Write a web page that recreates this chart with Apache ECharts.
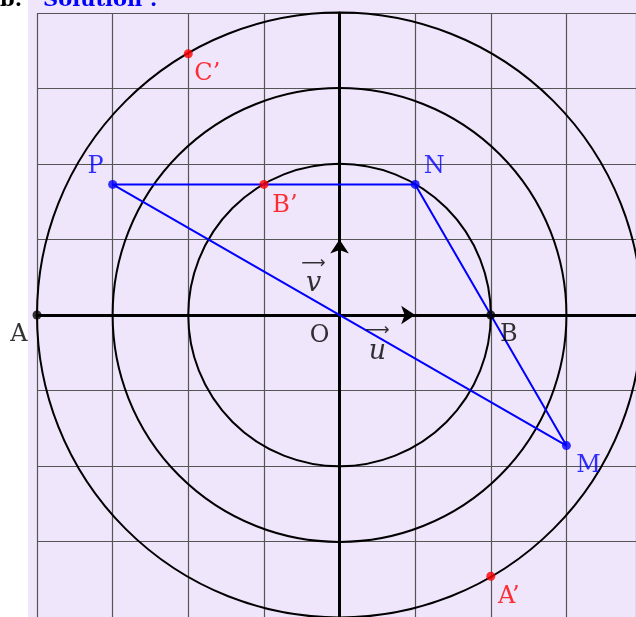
<!DOCTYPE html>
<html>
<head>
<meta charset="utf-8">
<script src="https://cdn.jsdelivr.net/npm/echarts@6/dist/echarts.min.js"></script>
<style>
  html, body { margin: 0; padding: 0; background: #fff; }
  #chart { width: 636px; height: 617px; }
</style>
</head>
<body>
<div id="chart"></div>
<script>
// --- data (unit = one grid square) ---
const radii = [2, 3, 4]

const blueNames = ['P', 'N', 'M']
const blueX = [-3, 1, 3]
const blueY = [1.73, 1.73, -1.73]

const redNames = ['B’', 'C’', 'A’']
const redX = [-1, -2, 2]
const redY = [1.73, 3.46, -3.46]

const blackNames = ['A', 'B']
const blackX = [-4, 2]
const blackY = [0, 0]

// closed path P -> N -> M -> P
const triangleOrder = [0, 1, 2, 0]

const vecNames = ['u', 'v']
const vecX = [1, 0]
const vecY = [0, 1]

const chart = echarts.init(document.getElementById('chart'))

// label offsets (px) from each point
const labelOffset = {
  P: [-17, -18], N: [19, -18], M: [22, 20],
  'B’': [21, 21], 'C’': [19, 20], 'A’': [18, 21],
  A: [-18, 20], B: [18, 20], O: [-20, 21]
}

function points(names, xs, ys) {
  return names.map((n, i) => ({
    name: n,
    value: [xs[i], ys[i]],
    label: { offset: labelOffset[n] }
  }))
}

const labelFont = { fontFamily: 'DejaVu Serif', fontSize: 24, textBorderWidth: 0 }

const option = {
  animation: false,
  graphic: [
    {
      type: 'rect', z: -10, silent: true,
      shape: { x: 28, y: 0, width: 620, height: 617 },
      style: { fill: '#f0e6fc' }
    },
    {
      type: 'text', z: 100, x: 0, y: 1,
      style: {
        text: 'b.', fill: '#000',
        fontFamily: 'DejaVu Serif', fontSize: 21, fontWeight: 'bold',
        align: 'left', verticalAlign: 'middle'
      }
    },
    {
      type: 'text', z: 100, x: 43, y: 1,
      style: {
        text: 'Solution :', fill: '#0000ff',
        fontFamily: 'DejaVu Serif', fontSize: 21, fontWeight: 'bold',
        align: 'left', verticalAlign: 'middle'
      }
    }
  ],
  grid: { left: 37, right: 0, top: 13, bottom: 0 },
  xAxis: {
    // right edge of the picture cuts the plane at about x = 3.92
    type: 'value', min: -4, max: 3.92, interval: 1,
    axisLine: { onZero: true, lineStyle: { color: '#000', width: 3 } },
    axisTick: { show: false },
    axisLabel: { show: false },
    splitLine: { show: true, lineStyle: { color: '#555', width: 1.2 } }
  },
  yAxis: {
    type: 'value', min: -4, max: 4, interval: 1,
    axisLine: { onZero: true, lineStyle: { color: '#000', width: 3 } },
    axisTick: { show: false },
    axisLabel: { show: false },
    splitLine: { show: true, lineStyle: { color: '#555', width: 1.2 } }
  },
  series: [
    {
      // circles centred on O
      type: 'custom',
      data: radii.map(r => [0, 0, r]),
      encode: { x: 0, y: 1 },
      clip: false,
      renderItem(params, api) {
        const c = api.coord([api.value(0), api.value(1)])
        const r = api.size([api.value(2), 0])[0]
        return {
          type: 'circle',
          shape: { cx: c[0], cy: c[1], r: r },
          style: { fill: 'none', stroke: '#000', lineWidth: 2 }
        }
      },
      z: 3
    },
    {
      // vectors u and v
      type: 'lines',
      coordinateSystem: 'cartesian2d',
      data: vecNames.map((n, i) => ({ coords: [[0, 0], [vecX[i], vecY[i]]] })),
      symbol: ['none', 'arrow'],
      symbolSize: [9, 14],
      lineStyle: { color: '#000', width: 3, opacity: 1 },
      z: 4
    },
    {
      type: 'line',
      data: triangleOrder.map(i => [blueX[i], blueY[i]]),
      showSymbol: false,
      symbol: 'none',
      lineStyle: { color: '#0000ff', width: 2 },
      z: 5
    },
    {
      type: 'scatter',
      data: points(blueNames, blueX, blueY),
      symbolSize: 9,
      itemStyle: { color: '#0000ff' },
      label: { show: true, position: 'inside', formatter: '{b}', color: '#0000ff', ...labelFont },
      z: 6
    },
    {
      type: 'scatter',
      data: points(redNames, redX, redY),
      symbolSize: 9,
      itemStyle: { color: '#ff0000' },
      label: { show: true, position: 'inside', formatter: '{b}', color: '#ff0000', ...labelFont },
      z: 6
    },
    {
      type: 'scatter',
      data: points(blackNames, blackX, blackY),
      symbolSize: 9,
      itemStyle: { color: '#000' },
      label: { show: true, position: 'inside', formatter: '{b}', color: '#000', ...labelFont },
      z: 6
    },
    {
      // origin label, no visible dot
      type: 'scatter',
      data: points(['O'], [0], [0]),
      symbolSize: 1,
      itemStyle: { color: 'rgba(0,0,0,0)' },
      label: { show: true, position: 'inside', formatter: '{b}', color: '#000', ...labelFont },
      z: 6
    },
    {
      // vector names with arrows, anchored at the vector midpoints
      type: 'scatter',
      data: vecNames.map((n, i) => ({
        name: n,
        value: [vecX[i] / 2, vecY[i] / 2],
        label: { offset: n === 'u' ? [0, 29] : [-26, -1] }
      })),
      symbolSize: 1,
      itemStyle: { color: 'rgba(0,0,0,0)' },
      label: {
        show: true,
        position: 'inside',
        formatter: p => '{ar|⟶}\n{it|' + p.name + '}',
        align: 'center',
        textBorderWidth: 0,
        rich: {
          ar: { fontFamily: 'DejaVu Sans', fontSize: 17, lineHeight: 16, color: '#000', align: 'center' },
          it: { fontFamily: 'DejaVu Serif', fontStyle: 'italic', fontSize: 27, lineHeight: 26, color: '#000', align: 'center' }
        }
      },
      z: 6
    }
  ]
}

chart.setOption(option)
</script>
</body>
</html>
